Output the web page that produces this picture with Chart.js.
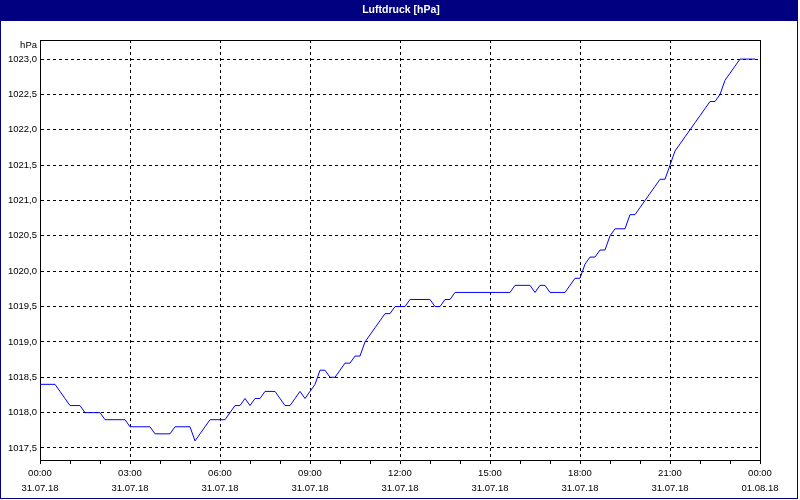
<!DOCTYPE html>
<html>
<head>
<meta charset="utf-8">
<script src="https://cdn.jsdelivr.net/npm/chart.js@4/dist/chart.umd.min.js"></script>
<style>
  html, body { margin: 0; padding: 0; background: #ffffff; }
  #wrap { width: 800px; height: 500px; position: relative; }
</style>
</head>
<body>
<div id="wrap"><canvas id="c" width="800" height="500"></canvas></div>
<script>
const chartTitle = 'Luftdruck [hPa]';
const unitLabel = 'hPa';
const sampleStepMinutes = 10;

// Pressure readings (hPa), one every 10 minutes starting 31.07.18 00:00
const pressure = [
  1018.4, 1018.4, 1018.4, 1018.4, 1018.3, 1018.2, 1018.1, 1018.1, 1018.1, 1018.0,
  1018.0, 1018.0, 1018.0, 1017.9, 1017.9, 1017.9, 1017.9, 1017.9, 1017.8, 1017.8,
  1017.8, 1017.8, 1017.8, 1017.7, 1017.7, 1017.7, 1017.7, 1017.8, 1017.8, 1017.8,
  1017.8, 1017.6, 1017.7, 1017.8, 1017.9, 1017.9, 1017.9, 1017.9, 1018.0, 1018.1,
  1018.1, 1018.2, 1018.1, 1018.2, 1018.2, 1018.3, 1018.3, 1018.3, 1018.2, 1018.1,
  1018.1, 1018.2, 1018.3, 1018.2, 1018.3, 1018.4, 1018.6, 1018.6, 1018.5, 1018.5,
  1018.6, 1018.7, 1018.7, 1018.8, 1018.8, 1019.0, 1019.1, 1019.2, 1019.3, 1019.4,
  1019.4, 1019.5, 1019.5, 1019.5, 1019.6, 1019.6, 1019.6, 1019.6, 1019.6, 1019.5,
  1019.5, 1019.6, 1019.6, 1019.7, 1019.7, 1019.7, 1019.7, 1019.7, 1019.7, 1019.7,
  1019.7, 1019.7, 1019.7, 1019.7, 1019.7, 1019.8, 1019.8, 1019.8, 1019.8, 1019.7,
  1019.8, 1019.8, 1019.7, 1019.7, 1019.7, 1019.7, 1019.8, 1019.9, 1019.9, 1020.1,
  1020.2, 1020.2, 1020.3, 1020.3, 1020.5, 1020.6, 1020.6, 1020.6, 1020.8, 1020.8,
  1020.9, 1021.0, 1021.1, 1021.2, 1021.3, 1021.3, 1021.5, 1021.7, 1021.8, 1021.9,
  1022.0, 1022.1, 1022.2, 1022.3, 1022.4, 1022.4, 1022.5, 1022.7, 1022.8, 1022.9,
  1023.0, 1023.0, 1023.0, 1023.0
];

const yTickValues = [1017.5, 1018.0, 1018.5, 1019.0, 1019.5, 1020.0, 1020.5, 1021.0, 1021.5, 1022.0, 1022.5, 1023.0];
const xTickTimes = ['00:00', '03:00', '06:00', '09:00', '12:00', '15:00', '18:00', '21:00', '00:00'];
const xTickDates = ['31.07.18', '31.07.18', '31.07.18', '31.07.18', '31.07.18', '31.07.18', '31.07.18', '31.07.18', '01.08.18'];
const hourTicks = [0,1,2,3,4,5,6,7,8,9,10,11,12,13,14,15,16,17,18,19,20,21,22,23,24];

const points = pressure.map((v, i) => ({ x: i * sampleStepMinutes, y: v }));

const NAVY = '#000080';
const FONT = '"Liberation Sans", Arial, sans-serif';

const framePlugin = {
  id: 'frame',
  beforeDraw(chart) {
    const ctx = chart.ctx;
    ctx.save();
    ctx.fillStyle = '#ffffff';
    ctx.fillRect(0, 0, chart.width, chart.height);
    ctx.fillStyle = NAVY;
    ctx.fillRect(0, 0, 798, 21);
    ctx.fillRect(0, 0, 1, 499);
    ctx.fillRect(797, 0, 1, 499);
    ctx.fillRect(0, 498, 798, 1);
    ctx.fillStyle = '#ffffff';
    ctx.font = 'bold 10.5px ' + FONT;
    ctx.textAlign = 'center';
    ctx.textBaseline = 'middle';
    ctx.fillText(chartTitle, 401, 10);
    ctx.restore();
  },
  afterDraw(chart) {
    const ctx = chart.ctx;
    const a = chart.chartArea;
    ctx.save();
    ctx.strokeStyle = '#000000';
    ctx.lineWidth = 1;
    ctx.beginPath();
    ctx.moveTo(Math.round(a.left) + 0.5, Math.round(a.top) + 0.5);
    ctx.lineTo(Math.round(a.right) + 0.5, Math.round(a.top) + 0.5);
    ctx.lineTo(Math.round(a.right) + 0.5, Math.round(a.bottom) + 0.5);
    ctx.stroke();
    ctx.fillStyle = '#000000';
    ctx.font = '9.5px ' + FONT;
    ctx.textAlign = 'right';
    ctx.textBaseline = 'middle';
    ctx.fillText(unitLabel, 37, 45);
    ctx.restore();
  }
};

new Chart(document.getElementById('c'), {
  type: 'line',
  data: {
    datasets: [{
      data: points,
      borderColor: '#0000ff',
      borderWidth: 1,
      pointRadius: 0,
      tension: 0,
      fill: false
    }]
  },
  options: {
    responsive: false,
    animation: false,
    devicePixelRatio: 1,
    layout: { padding: { top: 40, right: 40, left: 0, bottom: 0 } },
    plugins: { legend: { display: false }, title: { display: false }, tooltip: { enabled: false } },
    scales: {
      x: {
        type: 'linear',
        min: 0,
        max: 1440,
        afterFit: s => { s.height = 40; },
        afterBuildTicks: s => { s.ticks = hourTicks.map(h => ({ value: h * 60 })); },
        ticks: {
          autoSkip: false,
          maxRotation: 0,
          padding: 2,
          color: '#000000',
          font: { family: FONT, size: 9.5, lineHeight: '15px' },
          callback: v => (v % 180 === 0) ? [xTickTimes[v / 180], xTickDates[v / 180]] : ''
        },
        grid: {
          color: c => (c.tick && c.tick.value % 180 === 0) ? '#000000' : 'rgba(0,0,0,0)',
          tickColor: '#000000',
          tickLength: 4,
          lineWidth: 1
        },
        border: { display: true, color: '#000000', width: 1, dash: [3, 3] }
      },
      y: {
        type: 'linear',
        min: 1017.33,
        max: 1023.27,
        afterFit: s => { s.width = 40; },
        afterBuildTicks: s => { s.ticks = yTickValues.map(v => ({ value: v })); },
        ticks: {
          autoSkip: false,
          padding: 3,
          color: '#000000',
          font: { family: FONT, size: 9.5 },
          callback: v => Number(v).toFixed(1).replace('.', ',')
        },
        grid: { color: '#000000', drawTicks: false, lineWidth: 1 },
        border: { display: true, color: '#000000', width: 1, dash: [3, 3] }
      }
    }
  },
  plugins: [framePlugin]
});
</script>
</body>
</html>
